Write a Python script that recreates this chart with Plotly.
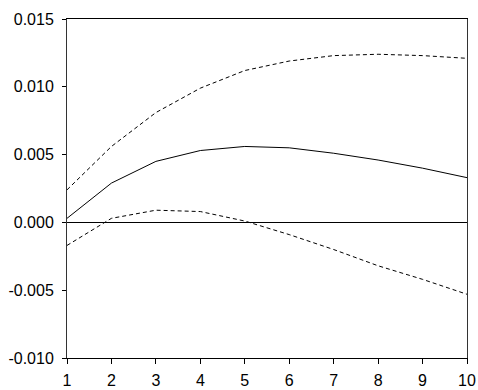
import plotly.graph_objects as go

periods = [1, 2, 3, 4, 5, 6, 7, 8, 9, 10]
response = [0.0003, 0.0029, 0.0045, 0.0053, 0.0056, 0.0055, 0.0051, 0.0046, 0.0040, 0.0033]
upper = [0.0024, 0.0056, 0.0081, 0.0099, 0.0112, 0.0119, 0.0123, 0.0124, 0.0123, 0.0121]
lower = [-0.0017, 0.0003, 0.0009, 0.0008, 0.0001, -0.0009, -0.0020, -0.0032, -0.0042, -0.0053]

y_tickvals = [-0.010, -0.005, 0.000, 0.005, 0.010, 0.015]
y_ticktext = ["-0.010", "-0.005", "0.000", "0.005", "0.010", "0.015"]
x_tickvals = periods
x_ticktext = [str(p) for p in periods]

fig = go.Figure()
fig.add_trace(go.Scatter(x=periods, y=upper, mode="lines",
                         line=dict(color="black", width=1, dash="4px,3px"), showlegend=False))
fig.add_trace(go.Scatter(x=periods, y=lower, mode="lines",
                         line=dict(color="black", width=1, dash="4px,3px"), showlegend=False))
fig.add_trace(go.Scatter(x=periods, y=response, mode="lines",
                         line=dict(color="black", width=1), showlegend=False))

fig.update_layout(
    width=478, height=390,
    margin=dict(l=67, r=11, t=19, b=32, autoexpand=False),
    paper_bgcolor="white", plot_bgcolor="white",
    font=dict(family="Liberation Sans, Arial, sans-serif", size=16, color="black"),
    xaxis=dict(range=[1, 10], tickvals=x_tickvals, ticktext=x_ticktext,
               showgrid=False, zeroline=False, showline=True, linecolor="black",
               linewidth=1, mirror=True, ticks="outside", ticklen=5, automargin=False,
               tickcolor="black", tickwidth=1, ticklabelstandoff=3),
    yaxis=dict(range=[-0.010, 0.015], tickvals=y_tickvals, ticktext=y_ticktext,
               showgrid=False, zeroline=True, zerolinecolor="black", zerolinewidth=1,
               showline=True, linecolor="#333", linewidth=1, mirror=True, automargin=False,
               ticks="outside", ticklen=4, tickcolor="black", tickwidth=1,
               ticklabelstandoff=5),
)

fig.write_html("out.html", config={"displayModeBar": False},
               post_script="document.body.style.margin='0';document.body.style.overflow='hidden';")
